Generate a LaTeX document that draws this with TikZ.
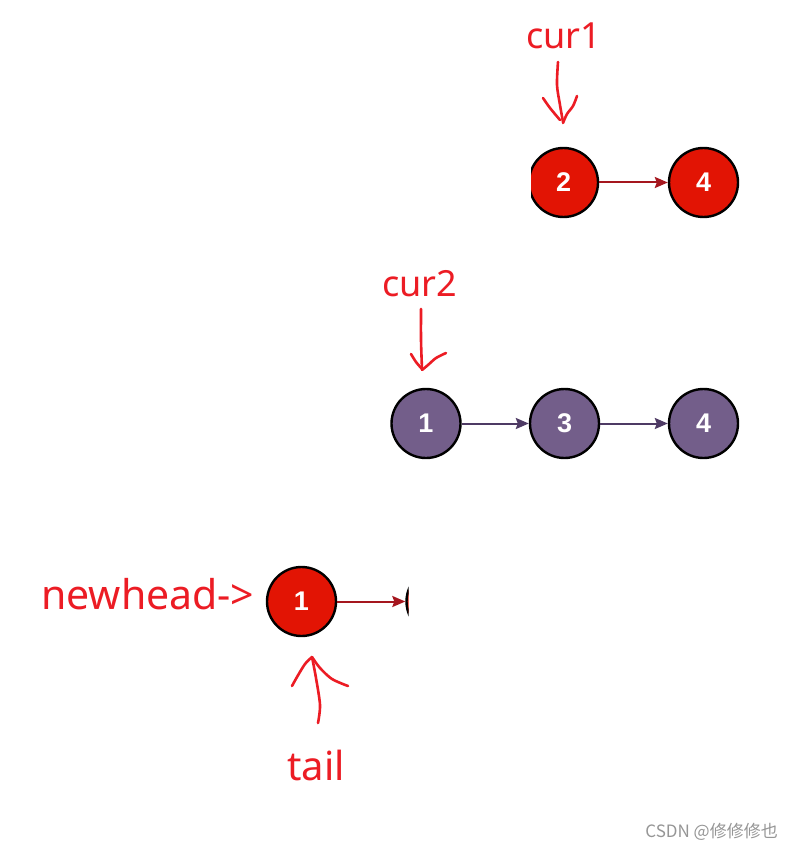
\documentclass[tikz,border=0pt]{standalone}
\usepackage{fontspec}
\setmainfont{Noto Sans}
\newfontfamily\numfont{Liberation Sans}
\newfontfamily\cjkfont{Noto Sans CJK SC}
\usetikzlibrary{arrows.meta}
\definecolor{nodered}{RGB}{226,20,4}
\definecolor{nodepurple}{RGB}{115,94,138}
\definecolor{arrred}{RGB}{165,22,30}
\definecolor{arrpurple}{RGB}{78,58,100}
\definecolor{inkred}{RGB}{236,28,36}
\definecolor{wmgray}{RGB}{150,150,150}
\tikzset{
  listnode/.style={circle, draw=black, line width=2.4pt, minimum size=69pt, inner sep=0pt,
    text=white, font=\numfont\bfseries\fontsize{27}{27}\selectfont},
  rednode/.style={listnode, fill=nodered},
  purplenode/.style={listnode, fill=nodepurple},
  link/.style={line width=2pt, -{Stealth[length=13pt,width=11pt,inset=2pt]}},
  redlink/.style={link, draw=arrred, fill=arrred},
  purplelink/.style={link, draw=arrpurple, fill=arrpurple},
  inklabel/.style={text=inkred, inner sep=0pt, anchor=base west},
  ink/.style={draw=inkred, line width=2.6pt, line cap=round, line join=round}
}
\begin{document}
\begin{tikzpicture}[x=1pt,y=-1pt]
\useasboundingbox (0,0) rectangle (794,850);
\fill[white] (0,0) rectangle (794,850);

% top list (red)
\begin{scope}
  \clip (531,100) rectangle (794,260);
  \node[rednode] (a2) at (563.5,182.5) {2};
\end{scope}
\node[rednode] (a4) at (703.5,182.5) {4};
\draw[redlink] (a2) -- (a4);

% middle list (purple)
\node[purplenode] (b1) at (426,423.5) {1};
\node[purplenode] (b3) at (564.5,423.5) {3};
\node[purplenode] (b4) at (703.5,423.5) {4};
\draw[purplelink] (b1) -- (b3);
\draw[purplelink] (b3) -- (b4);

% bottom list
\node[rednode] (c1) at (301.5,601.5) {1};
\begin{scope}
  \clip (0,550) rectangle (408.5,660);
  \node[rednode] (c2) at (441,601.5) {};
\end{scope}
\draw[redlink] (c1) -- (c2);

% labels
\node[inklabel, font=\fontsize{36}{36}\selectfont] (lcur1) at (526,49) {cur1};
\node[inklabel, font=\fontsize{36}{36}\selectfont] (lcur2) at (382,296) {cur2};
\node[inklabel, font=\fontsize{41}{41}\selectfont] (lnew) at (41,609) {newhead->};
\node[inklabel, font=\fontsize{40}{40}\selectfont] (ltail) at (287,780) {tail};

% hand-drawn arrows
\draw[ink] plot[smooth] coordinates {(558,62) (557,85) (560,105) (563,122)};
\draw[ink] plot[smooth] coordinates {(543,98) (550,108) (560,120)};
\draw[ink] plot[smooth] coordinates {(577,96) (573,106) (567,114) (563,123)};

\draw[ink] plot[smooth] coordinates {(421,309) (421,340) (422,369)};
\draw[ink] plot[smooth] coordinates {(411,354) (416,362) (422,369)};
\draw[ink] plot[smooth] coordinates {(446,353) (436,358) (428,365) (422,370)};

\draw[ink] plot[smooth] coordinates {(318,723) (320,705) (316,678) (312,657)};
\draw[ink] plot[smooth] coordinates {(292,686) (297,677) (305,664) (312,657)};
\draw[ink] plot[smooth] coordinates {(348,686) (332,679) (320,668) (312,657)};

% watermark
\node[text=wmgray, inner sep=0pt, anchor=base east, font=\cjkfont\fontsize{17}{17}\selectfont] (wm) at (778,837) {CSDN @修修修也};
\end{tikzpicture}
\end{document}
